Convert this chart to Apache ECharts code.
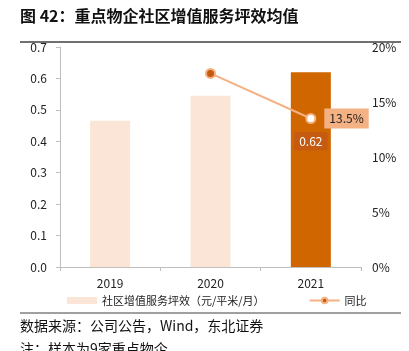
<!DOCTYPE html>
<html>
<head>
<meta charset="utf-8">
<script src="https://cdn.jsdelivr.net/npm/echarts@6/dist/echarts.min.js"></script>
<style>
  html, body { margin: 0; padding: 0; background: #fff; }
  #chart { width: 409px; height: 351px; }
</style>
</head>
<body>
<div id="chart"></div>
<script>
// 数据
const years = ["2019", "2020", "2021"];
const pingXiao = [0.465, 0.545, 0.62];
const tongBi = [null, 17.6, 13.5];
const leftTicks = ["0.0", "0.1", "0.2", "0.3", "0.4", "0.5", "0.6", "0.7"];

const sans = "'Noto Sans CJK SC', 'Noto Sans', sans-serif";
const chart = echarts.init(document.getElementById("chart"));

const option = {
  animation: false,
  textStyle: { fontFamily: sans },
  grid: { left: 60, right: 48, top: 47, bottom: 84 },
  graphic: [
    {
      type: "text", left: 20, top: 8,
      style: { text: "图 42：重点物企社区增值服务坪效均值", font: "bold 16px " + sans, fill: "#111" },
    },
    {
      type: "line", shape: { x1: 20, y1: 42, x2: 401, y2: 42 },
      style: { stroke: "#404040", lineWidth: 1.5 },
    },
    {
      type: "line", shape: { x1: 20, y1: 313, x2: 401, y2: 313 },
      style: { stroke: "#404040", lineWidth: 1 },
    },
    {
      type: "text", left: 20, top: 319,
      style: { text: "数据来源：公司公告，Wind，东北证券", font: "14px " + sans, fill: "#111" },
    },
    {
      type: "text", left: 20, top: 342,
      style: { text: "注：样本为9家重点物企", font: "14px " + sans, fill: "#111" },
    },
  ],
  legend: {
    bottom: 40,
    left: 62,
    itemGap: 44,
    itemWidth: 30,
    itemHeight: 7,
    textStyle: { fontSize: 11, color: "#222", fontFamily: sans },
    data: [
      { name: "社区增值服务坪效（元/平米/月）", icon: "rect", itemStyle: { color: "#FBE5D6" } },
      { name: "同比" },
    ],
  },
  xAxis: {
    type: "category",
    data: years,
    axisLine: { lineStyle: { color: "#BFBFBF" } },
    axisTick: { show: true, alignWithLabel: false, length: 4, lineStyle: { color: "#BFBFBF" } },
    axisLabel: { color: "#222", fontSize: 12, margin: 10 },
  },
  yAxis: [
    {
      type: "value",
      min: 0, max: 0.7, interval: 0.1,
      axisLine: { show: true, lineStyle: { color: "#BFBFBF" } },
      axisTick: { show: true, length: 4, lineStyle: { color: "#BFBFBF" } },
      splitLine: { show: false },
      axisLabel: {
        color: "#222", fontSize: 12, margin: 13,
        formatter: (v) => leftTicks[Math.round(v * 10)],
      },
    },
    {
      type: "value",
      min: 0, max: 20, interval: 5,
      axisLine: { show: false },
      axisTick: { show: false },
      splitLine: { show: false },
      axisLabel: { color: "#222", fontSize: 12, margin: 11, formatter: "{value}%" },
    },
  ],
  series: [
    {
      name: "社区增值服务坪效（元/平米/月）",
      type: "bar",
      barWidth: 40,
      itemStyle: { color: "#FBE5D6" },
      data: pingXiao.map((v, i) =>
        i === 2
          ? {
              value: v,
              itemStyle: { color: "#CF6600" },
              label: {
                show: true,
                position: "insideTop",
                offset: [0, 55],
                color: "#fff",
                fontSize: 12,
                backgroundColor: "#C55A11",
                padding: [3, 5],
                formatter: (p) => p.value.toFixed(2),
              },
            }
          : v
      ),
    },
    {
      name: "同比",
      type: "line",
      yAxisIndex: 1,
      symbol: "circle",
      symbolSize: 9,
      lineStyle: { color: "#F4B183", width: 2 },
      itemStyle: { color: "#C55A11", borderColor: "#F4B183", borderWidth: 2 },
      data: tongBi.map((v, i) =>
        i === 2
          ? {
              value: v,
              itemStyle: { color: "#fff", borderColor: "#F4B183", borderWidth: 2 },
              label: {
                show: true,
                position: "right",
                distance: 8,
                color: "#222",
                fontSize: 12,
                backgroundColor: "#F4B183",
                padding: [4, 5],
                formatter: (p) => p.value.toFixed(1) + "%",
              },
            }
          : v
      ),
    },
  ],
};

chart.setOption(option);
window.addEventListener("resize", () => chart.resize());
</script>
</body>
</html>
